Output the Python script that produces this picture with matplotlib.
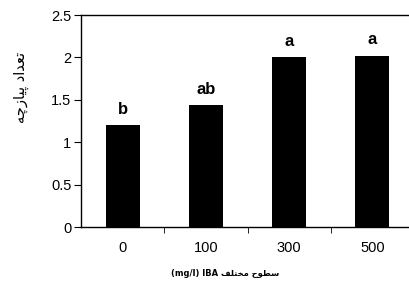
import matplotlib
matplotlib.use('Agg')
import matplotlib.pyplot as plt
import numpy as np

# داده ها
categories = ['0', '100', '300', '500']
values = [1.20, 1.44, 2.00, 2.02]
letters = ['b', 'ab', 'a', 'a']
y_ticks = [0, 0.5, 1, 1.5, 2, 2.5]
y_tick_labels = ['0', '0.5', '1', '1.5', '2', '2.5']

# matplotlib has no Arabic shaping, so labels are written in visual order
# with presentation forms: "تعداد پیازچه" and "سطوح مختلف IBA (mg/l)"
ylabel_text = '\uFEEA\uFB7C\uFEAF\uFE8E\uFBFF\uFB58 \uFEA9\uFE8D\uFEAA\uFECC\uFE97'
xlabel_text = '(mg/l) IBA \uFED2\uFEE0\uFE98\uFEA8\uFEE3 \uFEA1\uFEEE\uFEC4\uFEB3'

plt.rcParams['font.family'] = ['Liberation Sans', 'DejaVu Sans']

fig = plt.figure(figsize=(4.1, 2.89), dpi=100)
ax = fig.add_axes([0.1976, 0.2145, 0.8122, 0.7335])

x = np.arange(len(categories))
ax.bar(x, values, width=0.41, color='black')

for xi, v, t in zip(x, values, letters):
    ax.annotate(t, (xi, v), xytext=(0, 6), textcoords='offset points',
                ha='center', va='bottom', fontsize=12, fontweight='bold')

ax.set_xlim(-0.5, 3.5)
ax.set_ylim(0, 2.5)
ax.set_yticks(y_ticks)
ax.set_yticklabels(y_tick_labels, fontsize=10.5)
ax.set_xticks(x)
ax.set_xticklabels(categories, fontsize=10.5)
ax.set_xticks(x[:-1] + 0.5, minor=True)
ax.tick_params(axis='x', which='major', length=0, pad=10)
ax.tick_params(axis='x', which='minor', length=4, direction='out')
ax.tick_params(axis='y', length=5, direction='out', pad=2)

ax.spines['right'].set_visible(False)
for s in ['left', 'bottom', 'top']:
    ax.spines[s].set_linewidth(1)

ax.set_ylabel(ylabel_text, family=['DejaVu Sans'], fontsize=10.5)
ax.yaxis.set_label_coords(-0.155, 0.66)
ax.set_xlabel(xlabel_text, family=['DejaVu Sans'], fontsize=6, fontweight='bold')
ax.xaxis.set_label_coords((225 - 81) / 333, -0.2)

fig.savefig('out.png', dpi=100)
